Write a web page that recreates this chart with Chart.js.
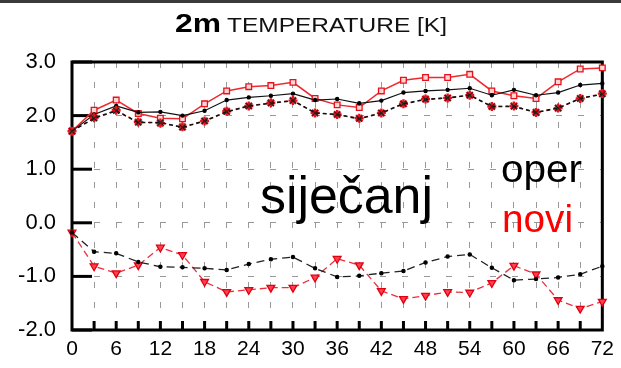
<!DOCTYPE html>
<html><head><meta charset="utf-8">
<script src="https://cdn.jsdelivr.net/npm/chart.js@4/dist/chart.umd.min.js"></script>
<style>html,body{margin:0;padding:0;background:#fff;}#wrap{width:621px;height:368px;position:relative;}</style>
</head><body><div id="wrap"><canvas id="c" width="621" height="368"></canvas></div>
<script>
const hours = [0,3,6,9,12,15,18,21,24,27,30,33,36,39,42,45,48,51,54,57,60,63,66,69,72];
const xTickLabels = [0,6,12,18,24,30,36,42,48,54,60,66,72];
const yTickLabels = [3,2,1,0,-1,-2];
const upperOper = [1.71,2.02,2.18,2.06,2.07,2.00,2.09,2.29,2.34,2.37,2.41,2.29,2.31,2.23,2.28,2.43,2.46,2.48,2.51,2.38,2.48,2.38,2.43,2.57,2.60];
const upperNovi = [1.71,2.10,2.29,2.04,1.95,1.94,2.22,2.46,2.54,2.56,2.62,2.32,2.20,2.15,2.46,2.66,2.71,2.71,2.77,2.46,2.37,2.32,2.63,2.87,2.89];
const upperDashOper = [1.71,1.95,2.09,1.87,1.87,1.78,1.90,2.07,2.18,2.23,2.28,2.05,2.02,1.94,2.05,2.22,2.30,2.33,2.38,2.17,2.17,2.06,2.14,2.32,2.40];
const upperDashNovi = [1.71,1.96,2.10,1.88,1.86,1.79,1.90,2.08,2.18,2.24,2.28,2.05,2.02,1.95,2.05,2.22,2.31,2.33,2.38,2.17,2.18,2.06,2.14,2.32,2.41];
const lowerOper = [-0.18,-0.54,-0.57,-0.73,-0.82,-0.83,-0.85,-0.88,-0.77,-0.68,-0.64,-0.85,-1.01,-0.99,-0.94,-0.90,-0.74,-0.63,-0.59,-0.84,-1.07,-1.05,-1.02,-0.96,-0.81];
const lowerNovi = [-0.18,-0.81,-0.94,-0.79,-0.46,-0.60,-1.10,-1.29,-1.25,-1.21,-1.21,-1.02,-0.67,-0.79,-1.27,-1.42,-1.36,-1.29,-1.30,-1.12,-0.80,-0.96,-1.44,-1.60,-1.47];
const titleBold = '2m';
const titleRest = 'TEMPERATURE [K]';
const monthLabel = 'siječanj';
const legendOper = 'oper';
const legendNovi = 'novi';

function pts(arr){ return arr.map((v,i)=>({x:hours[i], y:v})); }

const frame = {
  id:'frame',
  beforeDatasetsDraw(chart){
    const {ctx, chartArea:a, scales} = chart;
    ctx.save();
    ctx.strokeStyle = '#000';
    ctx.lineWidth = 3;
    ctx.lineCap = 'butt';
    hours.forEach(h=>{
      const x = scales.x.getPixelForValue(h);
      if (h===0 || h===72) return;
      ctx.beginPath(); ctx.moveTo(x, a.bottom); ctx.lineTo(x, a.bottom-9); ctx.stroke();
    });
    yTickLabels.forEach(v=>{
      const y = scales.y.getPixelForValue(v);
      ctx.beginPath(); ctx.moveTo(a.left, y); ctx.lineTo(a.left+20, y); ctx.stroke();
    });
    ctx.strokeRect(a.left, a.top, a.right-a.left, a.bottom-a.top);
    ctx.restore();
  },
  afterDraw(chart){
    const ctx = chart.ctx;
    ctx.save();
    ctx.fillStyle = '#3a3a3a';
    ctx.fillRect(0,0,621,3);
    function fit(text, x, base, font, w, color){
      ctx.font = font;
      const m = ctx.measureText(text).width;
      ctx.save();
      ctx.translate(x, base);
      ctx.scale(w/m, 1);
      ctx.fillStyle = color;
      ctx.textBaseline = 'alphabetic';
      ctx.textAlign = 'left';
      ctx.fillText(text, 0, 0);
      ctx.restore();
    }
    fit(titleBold, 175, 32, 'bold 25px "Liberation Sans", Arial, sans-serif', 46, '#000');
    fit(titleRest, 227, 32, '20px "Liberation Sans", Arial, sans-serif', 220, '#111');
    fit(monthLabel, 260, 213, '52px "Liberation Sans", Arial, sans-serif', 173, '#000');
    fit(legendOper, 501, 182, '38px "Liberation Sans", Arial, sans-serif', 81, '#000');
    fit(legendNovi, 502, 232, '38px "Liberation Sans", Arial, sans-serif', 71, '#ff0000');
    ctx.restore();
  }
};

new Chart(document.getElementById('c'), {
  type:'line',
  data:{ datasets:[
    {label:'oper low', data:pts(lowerOper), borderColor:'#222', borderWidth:1.3, borderDash:[8,5], pointStyle:'circle', pointRadius:1.6, pointBackgroundColor:'#000', pointBorderColor:'#000', clip:false},
    {label:'novi low', data:pts(lowerNovi), borderColor:'#ea3040', borderWidth:1.3, borderDash:[7,4], pointStyle:'triangle', rotation:180, pointRadius:4.5, pointBackgroundColor:'#ff4050', pointBorderColor:'#e00010', pointBorderWidth:1.3, clip:false},
    {label:'oper dash', data:pts(upperDashOper), borderColor:'#111', borderWidth:1.6, borderDash:[4,3], pointStyle:'crossRot', pointRadius:4, pointBorderColor:'#222', pointBorderWidth:1.2, clip:false},
    {label:'novi dash', data:pts(upperDashNovi), borderColor:'#e8202a', borderWidth:1.2, borderDash:[3,4], pointStyle:'star', pointRadius:4.5, pointBorderColor:'#e8101a', pointBorderWidth:2.4, clip:false},
    {label:'oper', data:pts(upperOper), borderColor:'#111', borderWidth:1.2, pointStyle:'circle', pointRadius:1.6, pointBackgroundColor:'#000', pointBorderColor:'#000', clip:false},
    {label:'novi', data:pts(upperNovi), borderColor:'#ee2a30', borderWidth:1.5, pointStyle:'rect', pointRadius:4, pointBackgroundColor:'#ffd6d6', pointBorderColor:'#e8101a', pointBorderWidth:1.3, clip:false}
  ]},
  options:{
    responsive:false, animation:false, devicePixelRatio:1,
    layout:{padding:{top:62, right:13, left:0, bottom:0}},
    plugins:{legend:{display:false}, tooltip:{enabled:false}, title:{display:false}},
    elements:{line:{tension:0}},
    scales:{
      x:{type:'linear', min:0, max:72,
        afterBuildTicks(s){ s.ticks = hours.map(v=>({value:v})); },
        afterFit(s){ s.height = 38; },
        ticks:{autoSkip:false, maxRotation:0, padding:7, color:'#000',
          font:{size:21, family:'"Liberation Sans", Arial, sans-serif'},
          callback:(v)=> xTickLabels.includes(v) ? String(v) : ''},
        grid:{color:'#999', lineWidth:1, drawTicks:false},
        border:{display:false, dash:[6,14]}
      },
      y:{min:-2, max:3,
        afterBuildTicks(s){ s.ticks = yTickLabels.map(v=>({value:v})); },
        afterFit(s){ s.width = 72; },
        ticks:{padding:16, color:'#000',
          font:{size:22, family:'"Liberation Sans", Arial, sans-serif'},
          callback:(v)=> Number(v).toFixed(1)},
        grid:{color:'#999', lineWidth:1, drawTicks:false},
        border:{display:false, dash:[6,16]}
      }
    }
  },
  plugins:[frame]
});
</script></body></html>
